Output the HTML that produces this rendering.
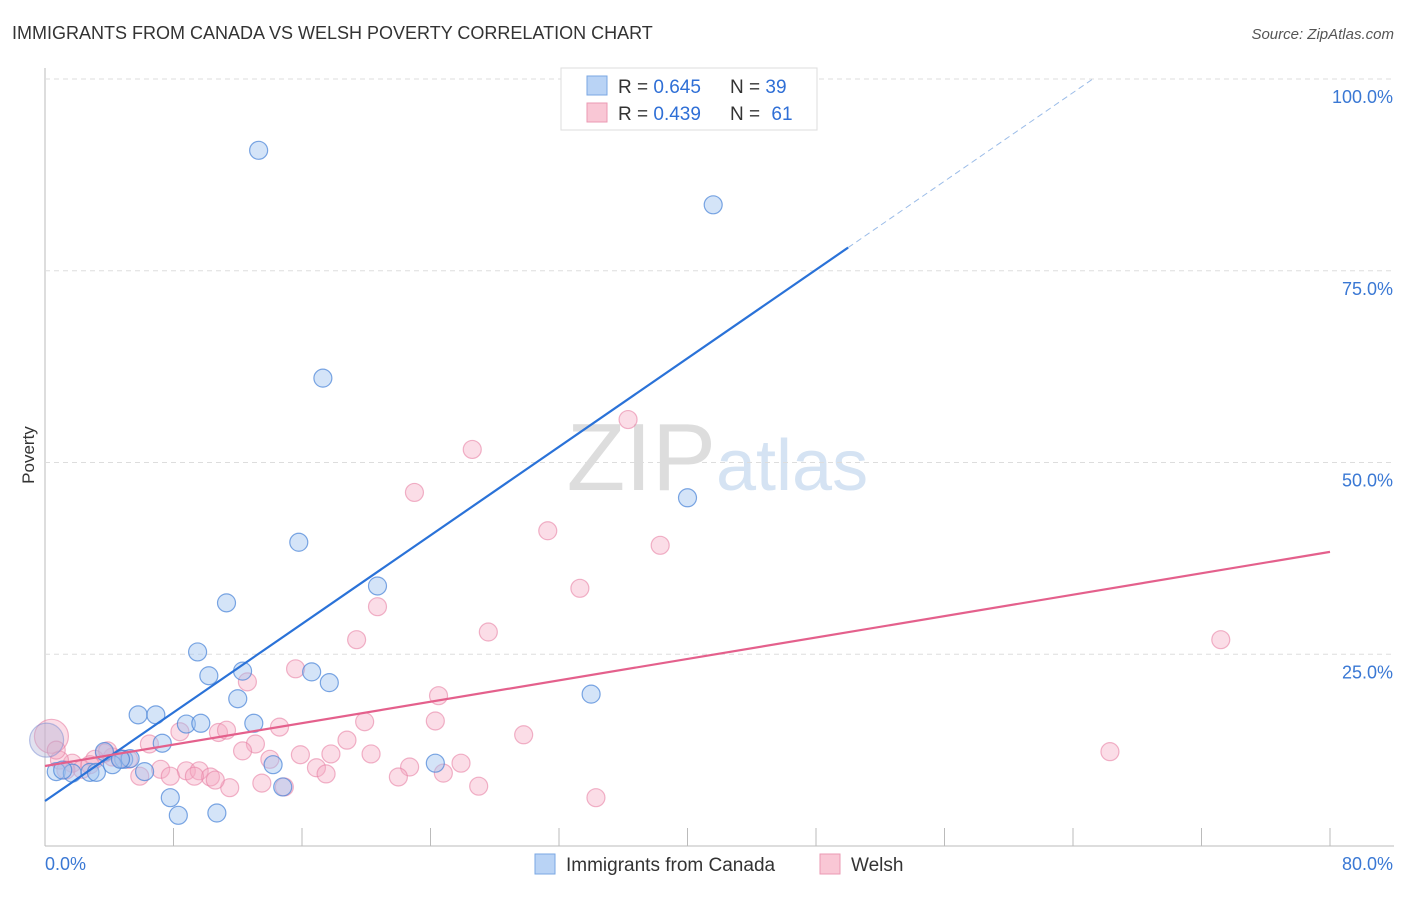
<!DOCTYPE html>
<html><head><meta charset="utf-8"><style>
body{margin:0;background:#fff;font-family:"Liberation Sans",sans-serif}
svg text{font-family:"Liberation Sans",sans-serif}
</style></head><body>
<svg id="c" width="1406" height="892">
<text x="12" y="39" font-size="18" fill="#333">IMMIGRANTS FROM CANADA VS WELSH POVERTY CORRELATION CHART</text>
<text x="1394" y="39" font-size="15" fill="#555" font-style="italic" text-anchor="end">Source: ZipAtlas.com</text>
<text x="34" y="455" font-size="17" fill="#333" transform="rotate(-90 34 455)" text-anchor="middle">Poverty</text>
<text x="716" y="490" font-size="96" fill="#ddd" text-anchor="end" font-family="Liberation Serif">ZIP</text>
<text x="716" y="490" font-size="72" fill="#d5e3f3">atlas</text>
<g id="grid"></g><g id="pts"></g><g id="lines"></g>
<g>
<rect x="561" y="68" width="256" height="62" fill="#fff" stroke="#ddd"/>
<rect x="587" y="76" width="20" height="19" fill="#b9d3f5" stroke="#7aa7e3"/>
<rect x="587" y="103" width="20" height="19" fill="#f9c7d5" stroke="#eb9ab3"/>
<text x="618" y="93" font-size="19" fill="#333">R = <tspan fill="#2f6fd6">0.645</tspan></text>
<text x="730" y="93" font-size="19" fill="#333">N = <tspan fill="#2f6fd6">39</tspan></text>
<text x="618" y="120" font-size="19" fill="#333">R = <tspan fill="#2f6fd6">0.439</tspan></text>
<text x="730" y="120" font-size="19" fill="#333">N = <tspan fill="#2f6fd6" dx="6">61</tspan></text>
</g>
<g>
<rect x="535" y="854" width="20" height="20" fill="#b9d3f5" stroke="#7aa7e3"/>
<text x="566" y="871" font-size="19" fill="#333">Immigrants from Canada</text>
<rect x="820" y="854" width="20" height="20" fill="#f9c7d5" stroke="#eb9ab3"/>
<text x="851" y="871" font-size="19" fill="#333">Welsh</text>
</g>
</svg>
<script>
const blueX=[13.3,41.6,17.3,40.0,15.8,20.7,11.3,9.5,10.2,12.3,16.6,17.7,12.0,34.0,5.8,6.9,8.8,9.7,13.0,7.3,0.1,3.7,4.9,5.3,0.7,1.7,2.8,3.2,4.2,6.2,14.2,24.3,14.8,7.8,8.3,10.7,33.3,1.1,4.7];
const blueY=[90.7,83.6,61.0,45.4,39.6,33.9,31.7,25.3,22.2,22.8,22.7,21.3,19.2,19.8,17.1,17.1,15.9,16.0,16.0,13.4,13.8,12.3,11.3,11.4,9.7,9.5,9.6,9.6,10.6,9.7,10.6,10.8,7.7,6.3,4.0,4.3,99.9,9.9,11.3];
const pinkX=[36.3,26.6,23.0,31.3,38.3,33.3,20.7,27.6,19.4,73.2,15.6,12.6,24.5,19.9,24.3,14.6,8.4,10.8,11.3,29.8,66.3,6.5,18.8,13.1,12.3,15.9,17.8,20.3,14.0,22.7,25.9,16.9,17.5,8.8,9.6,24.8,7.2,7.8,5.9,22.0,4.2,3.7,3.1,1.7,0.9,0.4,10.3,11.5,13.5,14.9,27.0,34.3,5.2,2.3,3.9,4.7,0.7,9.3,10.6,1.3,2.8];
const pinkY=[55.6,51.7,46.1,41.1,39.2,33.6,31.2,27.9,26.9,26.9,23.1,21.4,19.6,16.2,16.3,15.5,14.9,14.8,15.1,14.5,12.3,13.3,13.8,13.3,12.4,11.9,12.0,12.0,11.3,10.3,10.8,10.2,9.4,9.8,9.8,9.5,10.0,9.1,9.1,9.0,11.6,12.1,11.3,10.8,11.2,14.3,9.0,7.6,8.2,7.7,7.8,6.3,11.3,10.0,12.4,11.4,12.5,9.1,8.6,9.9,10.6];
const blueBig=[20], pinkBig=[45];
const trendBlue=[5.87,1.443], trendPink=[10.43,0.349];
const xTicks=[0,8,16,24,32,40,48,56,64,72,80];
const yTicks=[25,50,75,100];
const X=v=>45+v/80*1285, Y=v=>846-v/100*767;
const NS='http://www.w3.org/2000/svg';
function mk(t,a,p){const e=document.createElementNS(NS,t);for(const k in a)e.setAttribute(k,a[k]);p.appendChild(e);return e;}
const g=document.getElementById('grid'),P=document.getElementById('pts'),L=document.getElementById('lines');
mk('line',{x1:45,y1:68,x2:45,y2:846,stroke:'#bbb'},g);
mk('line',{x1:45,y1:846,x2:1394,y2:846,stroke:'#bbb'},g);
yTicks.forEach(t=>{
 const l=mk('line',{x1:45,y1:Y(t),x2:1394,y2:Y(t),stroke:'#ddd','stroke-dasharray':'5,4'},g);
 
 
 const tx=mk('text',{x:1393,y:Y(t)+24,'font-size':18,fill:'#3a78d4','text-anchor':'end'},g);
 tx.textContent=t.toFixed(1)+'%';
 
 
});
xTicks.forEach((t,i)=>{
 if(i>0){const l=mk('line',{x1:X(t),y1:828,x2:X(t),y2:846,stroke:'#bbb'},g);
 
 }
});
[[0,'start',45],[80,'end',1393]].forEach(([t,a,x])=>{
 const tx=mk('text',{x:x,y:870,'font-size':18,fill:'#3a78d4','text-anchor':a},g);
 tx.textContent=t.toFixed(1)+'%';
 
 
});
pinkX.forEach((v,i)=>{
 const c=mk('circle',{cx:X(v),cy:Y(pinkY[i]),r:pinkBig.includes(i)?17:9,fill:'rgba(245,170,195,0.4)',stroke:'rgba(232,130,165,0.6)','stroke-width':1.2},P);
 
 
});
blueX.forEach((v,i)=>{
 const big=blueBig.includes(i);
 const c=mk('circle',{cx:X(v),cy:Y(blueY[i]),r:big?17:9,fill:big?'rgba(180,180,215,0.4)':'rgba(160,195,240,0.45)',stroke:big?'rgba(120,140,210,0.5)':'rgba(70,130,215,0.7)','stroke-width':1.2},P);
 
 
});
let xe=50;
let l=mk('line',{x1:X(0),y1:Y(trendBlue[0]),x2:X(xe),y2:Y(trendBlue[0]+trendBlue[1]*xe),stroke:'#2a72d8','stroke-width':2.2},L);


let xd=(100-trendBlue[0])/trendBlue[1];
l=mk('line',{x1:X(xe),y1:Y(trendBlue[0]+trendBlue[1]*xe),x2:X(xd),y2:Y(100),stroke:'#9bbce8','stroke-width':1,'stroke-dasharray':'6,4'},L);


l=mk('line',{x1:X(0),y1:Y(trendPink[0]),x2:X(80),y2:Y(trendPink[0]+trendPink[1]*80),stroke:'#e4608c','stroke-width':2.2},L);


</script>
</body></html>
